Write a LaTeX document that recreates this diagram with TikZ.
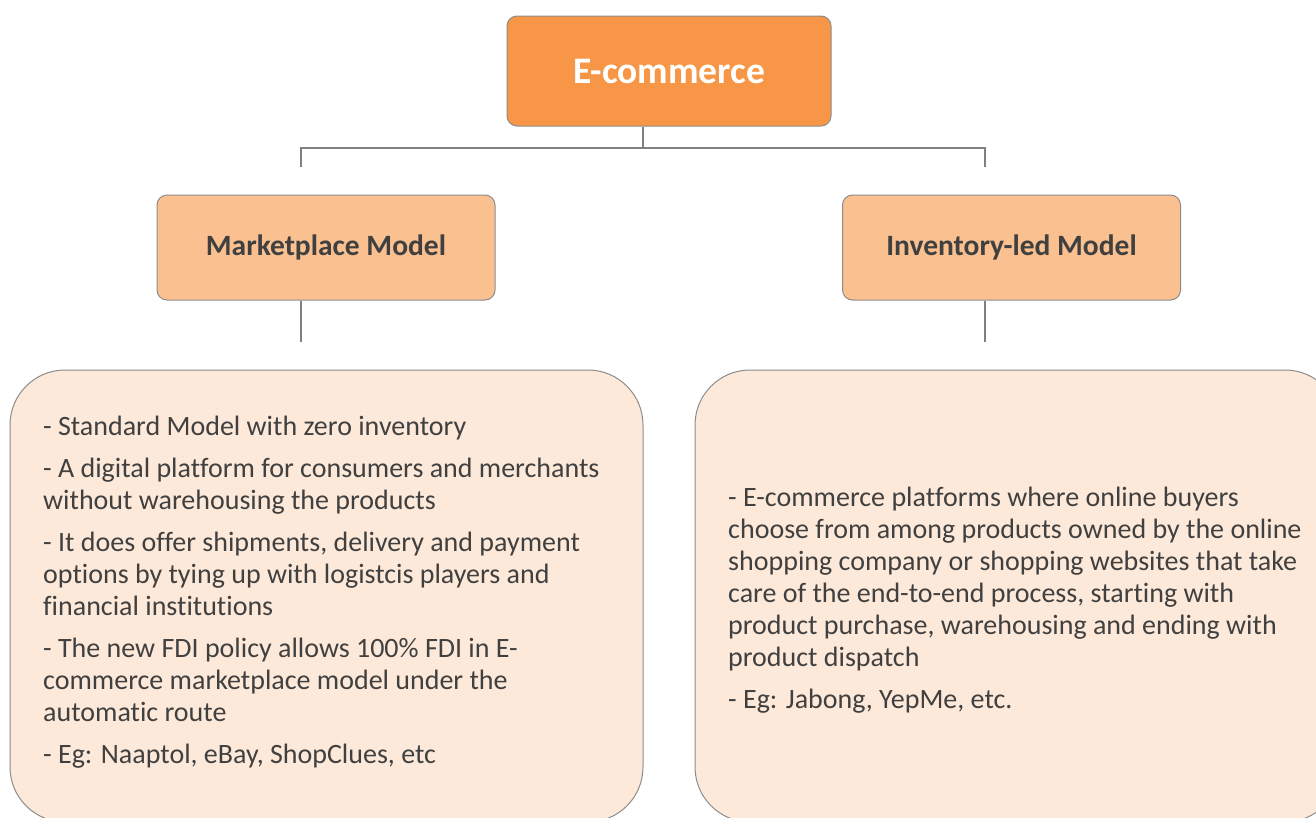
\documentclass[tikz,border=0pt]{standalone}
\usepackage{fontspec}
\setmainfont{Carlito}[Ligatures=NoCommon]
\definecolor{topfill}{HTML}{F79646}
\definecolor{midfill}{HTML}{FAC090}
\definecolor{lowfill}{HTML}{FDE9D9}
\definecolor{edge}{HTML}{8C8C8C}
\definecolor{linecol}{HTML}{808080}
\definecolor{txt}{HTML}{404040}
\tikzset{
  topbox/.style={draw=edge, line width=1pt, fill=topfill, rounded corners=10pt, minimum width=324pt, minimum height=110pt, inner sep=0pt, text=white, font=\bfseries\fontsize{37.5}{44}\selectfont},
  midbox/.style={draw=edge, line width=1pt, fill=midfill, rounded corners=10pt, minimum width=338pt, minimum height=105pt, inner sep=0pt, text=txt, font=\bfseries\fontsize{29.5}{34}\selectfont},
  lowbox/.style={draw=edge, line width=1pt, fill=lowfill, rounded corners=55pt},
  bodytext/.style={inner sep=0pt, align=left, text=txt, font=\fontsize{28}{32}\selectfont, anchor=north west},
  conn/.style={draw=linecol, line width=1.2pt}
}
\begin{document}
\begin{tikzpicture}[x=1pt,y=-1pt]
\useasboundingbox (0,0) rectangle (1316,817);
\clip (0,0) rectangle (1316,817);
\node[topbox] (ec) at (669,71) {E-commerce};
\node[midbox] (mp) at (326,247.5) {Marketplace Model};
\node[midbox] (inv) at (1011.5,247.5) {Inventory-led Model};
\coordinate (jn) at (643,148);
\coordinate (jl) at (301,148);
\coordinate (jr) at (985,148);
\coordinate (tl) at (301,167);
\coordinate (tr) at (985,167);
\coordinate (bl) at (301,342);
\coordinate (br) at (985,342);
\draw[conn] (jn |- ec.south) -- (jn);
\draw[conn] (tl) -- (jl) -- (jr) -- (tr);
\draw[conn] (bl |- mp.south) -- (bl);
\draw[conn] (br |- inv.south) -- (br);
\path[lowbox] (10,370) rectangle (643,822);
\path[lowbox] (695,370) rectangle (1340,822);
\node[bodytext] (lt) at (43,416) {- Standard Model with zero inventory\\[10pt]
- A digital platform for consumers and merchants\\
without warehousing the products\\[10pt]
- It does offer shipments, delivery and payment\\
options by tying up with logistcis players and\\
financial institutions\\[10pt]
- The new FDI policy allows 100\% FDI in E-\\
commerce marketplace model under the\\
automatic route\\[10pt]
- Eg: Naaptol, eBay, ShopClues, etc};
\node[bodytext] (rt) at (728,487) {- E-commerce platforms where online buyers\\
choose from among products owned by the online\\
shopping company or shopping websites that take\\
care of the end-to-end process, starting with\\
product purchase, warehousing and ending with\\
product dispatch\\[10pt]
- Eg: Jabong, YepMe, etc.};
\end{tikzpicture}
\end{document}
